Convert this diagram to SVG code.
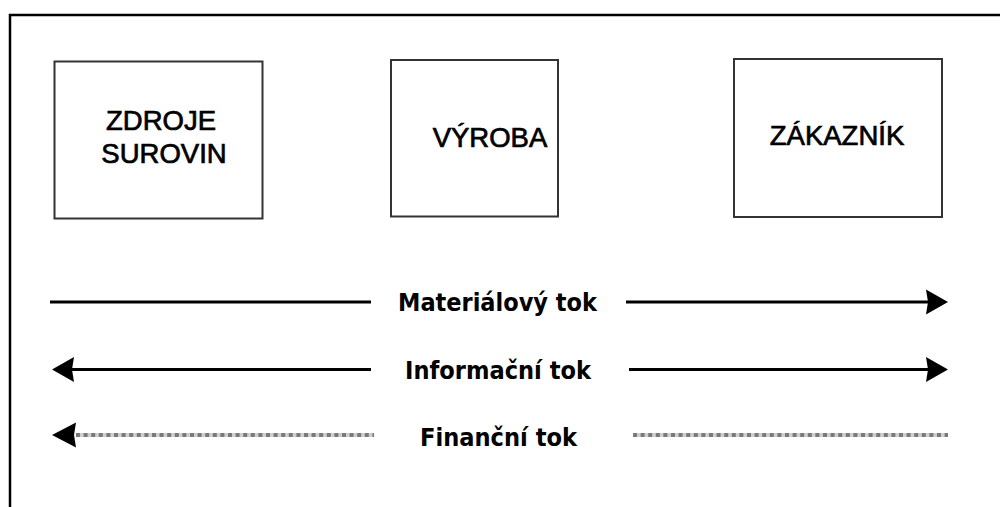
<svg xmlns="http://www.w3.org/2000/svg" width="1000" height="507" viewBox="0 0 1000 507">
  <style>
    .box { fill: #ffffff; stroke: #333333; stroke-width: 2; }
    .boxtext { font-family: "Liberation Sans", Arial, sans-serif; font-size: 27.5px; fill: #000000; stroke: #000000; stroke-width: 0.7; text-anchor: middle; }
    .flowtext { font-family: "DejaVu Sans", Verdana, sans-serif; font-weight: bold; font-size: 25px; fill: #000000; text-anchor: middle; }
    .solid { stroke: #000000; stroke-width: 3; fill: none; }
    .dotbase { stroke: #cfcfcf; stroke-width: 4; fill: none; }
    .dots { stroke: #7a7a7a; stroke-width: 4; stroke-dasharray: 4 3.6; fill: none; }
    .head { fill: #000000; }
  </style>
  <rect width="1000" height="507" fill="#ffffff"/>

  <!-- frame -->
  <path d="M10 507 V15 H1000" fill="none" stroke="#000000" stroke-width="2.5"/>

  <g id="zdroje">
    <rect class="box" x="54.5" y="61.5" width="208" height="157"/>
    <text class="boxtext" x="161" y="130">ZDROJE</text>
    <text class="boxtext" x="164" y="163">SUROVIN</text>
  </g>

  <g id="vyroba">
    <rect class="box" x="391" y="60" width="167" height="156.5"/>
    <text class="boxtext" x="490" y="146.5">VÝROBA</text>
  </g>

  <g id="zakaznik">
    <rect class="box" x="734" y="59" width="208" height="158"/>
    <text class="boxtext" x="837" y="145">ZÁKAZNÍK</text>
  </g>

  <g id="connectors">
    <!-- material flow -->
    <line class="solid" x1="50" y1="302" x2="371" y2="302"/>
    <line class="solid" x1="626" y1="302" x2="930" y2="302"/>
    <polygon class="head" points="948,302 926,289.5 928,302 926,314.5"/>

    <!-- information flow -->
    <polygon class="head" points="52,369.5 74,357 72,369.5 74,382"/>
    <line class="solid" x1="70" y1="369.5" x2="371" y2="369.5"/>
    <line class="solid" x1="629" y1="369.5" x2="930" y2="369.5"/>
    <polygon class="head" points="948,369.5 926,357 928,369.5 926,382"/>

    <!-- financial flow -->
    <polygon class="head" points="52,435 76,422.5 74,435 76,447.5"/>
    <line class="dotbase" x1="76" y1="435" x2="374" y2="435"/>
    <line class="dots" x1="76" y1="435" x2="374" y2="435"/>
    <line class="dotbase" x1="633" y1="435" x2="948" y2="435"/>
    <line class="dots" x1="633" y1="435" x2="948" y2="435"/>
  </g>

  <g id="labels">
    <text class="flowtext" x="497.5" y="311" textLength="199" lengthAdjust="spacingAndGlyphs">Materiálový tok</text>
    <text class="flowtext" x="498" y="379" textLength="186" lengthAdjust="spacingAndGlyphs">Informační tok</text>
    <text class="flowtext" x="498.5" y="445.5" textLength="157" lengthAdjust="spacingAndGlyphs">Finanční tok</text>
  </g>
</svg>
